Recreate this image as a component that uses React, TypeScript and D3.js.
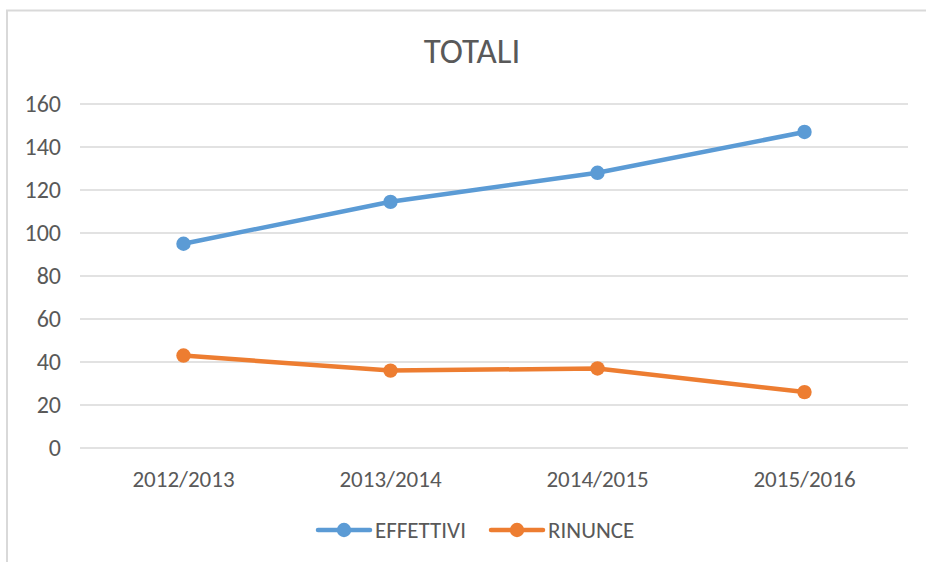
import * as d3 from "d3";

const categories = ["2012/2013", "2013/2014", "2014/2015", "2015/2016"];
const effettivi = [95, 114.5, 128, 147];
const rinunce = [43, 36, 37, 26];
const yTicks = [0, 20, 40, 60, 80, 100, 120, 140, 160];
const seriesNames = ["EFFETTIVI", "RINUNCE"];

const App = () => {
  const width = 926,
    height = 562,
    marginLeft = 80,
    marginRight = 18,
    marginTop = 104,
    marginBottom = 114;

  const font = "Carlito, 'Liberation Sans', 'Open Sans', sans-serif";
  const textColor = "#595959";
  const colors = ["#5b9bd5", "#ed7d31"];

  const x = d3
    .scaleBand()
    .domain(categories)
    .range([marginLeft, width - marginRight]);
  const y = d3.scaleLinear([0, 160], [height - marginBottom, marginTop]);
  const line = d3
    .line<number>()
    .x((d, i) => x(categories[i])! + x.bandwidth() / 2)
    .y((d) => y(d));

  const series = [effettivi, rinunce];

  // legend layout
  const legendY = 530;
  const legendItems = [
    { x: 318, name: seriesNames[0], color: colors[0] },
    { x: 491, name: seriesNames[1], color: colors[1] },
  ];

  return (
    <svg
      width={width}
      height={height}
      style={{ position: "absolute", left: 0, top: 0 }}
      fontFamily={font}
    >
      <rect x={0} y={0} width={width} height={height} fill="white" />
      <path d={`M7,${height} V10.5 H${width}`} fill="none" stroke="#d9d9d9" strokeWidth={2} />
      <text
        x={472}
        y={63}
        textAnchor="middle"
        fontSize={35}
        fill={textColor}
      >
        TOTALI
      </text>
      <g>
        {yTicks.map((t) => (
          <g key={t}>
            <line
              x1={marginLeft}
              x2={width - marginRight}
              y1={y(t)}
              y2={y(t)}
              stroke="#d9d9d9"
              strokeWidth={1.3}
            />
            <text
              x={61}
              y={y(t)}
              dy="0.35em"
              textAnchor="end"
              fontSize={24}
              fill={textColor}
            >
              {t}
            </text>
          </g>
        ))}
      </g>
      <g>
        {categories.map((c) => (
          <text
            key={c}
            x={x(c)! + x.bandwidth() / 2}
            y={479}
            dy="0.35em"
            textAnchor="middle"
            fontSize={23}
            fill={textColor}
          >
            {c}
          </text>
        ))}
      </g>
      {series.map((s, si) => (
        <g key={si}>
          <path
            d={line(s)!}
            fill="none"
            stroke={colors[si]}
            strokeWidth={4.5}
            strokeLinecap="round"
          />
          {s.map((v, i) => (
            <circle
              key={i}
              cx={x(categories[i])! + x.bandwidth() / 2}
              cy={y(v)}
              r={7.2}
              fill={colors[si]}
            />
          ))}
        </g>
      ))}
      <g>
        {legendItems.map((l) => (
          <g key={l.name}>
            <line
              x1={l.x}
              x2={l.x + 52}
              y1={legendY}
              y2={legendY}
              stroke={l.color}
              strokeWidth={4.5}
              strokeLinecap="round"
            />
            <circle cx={l.x + 26} cy={legendY} r={7.2} fill={l.color} />
            <text
              x={l.x + 57}
              y={legendY}
              dy="0.35em"
              fontSize={23}
              fill={textColor}
            >
              {l.name}
            </text>
          </g>
        ))}
      </g>
    </svg>
  );
};

export default App;
